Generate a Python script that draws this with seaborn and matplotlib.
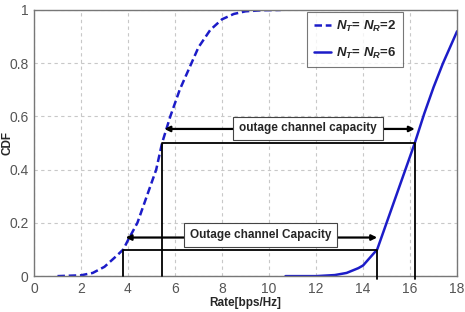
import numpy as np
import pandas as pd
import matplotlib
matplotlib.use("Agg")
import matplotlib.pyplot as plt
import seaborn as sns

# CDF of rate, N_T = N_R = 2 (dashed)
rate_2 = [1.0, 2.0, 2.5, 3.0, 3.5, 3.8, 4.0, 4.4, 4.8, 5.2, 5.45, 5.8, 6.2, 6.7, 7.0, 7.5, 8.0, 8.5, 9.0, 9.7, 10.5]
cdf_2 = [0.0, 0.003, 0.012, 0.035, 0.075, 0.10, 0.135, 0.20, 0.30, 0.40, 0.50, 0.60, 0.70, 0.80, 0.86, 0.925, 0.965, 0.985, 0.995, 0.999, 1.0]

# CDF of rate, N_T = N_R = 6 (solid)
rate_6 = [10.7, 12.0, 12.8, 13.3, 13.8, 14.0, 14.3, 14.6, 15.0, 15.4, 15.8, 16.0, 16.2, 16.6, 17.0, 17.4, 17.7, 18.0]
cdf_6 = [0.0, 0.0, 0.004, 0.012, 0.03, 0.04, 0.07, 0.10, 0.20, 0.30, 0.40, 0.45, 0.50, 0.61, 0.71, 0.80, 0.86, 0.92]

labels = [r"$N_T$= $N_R$=2", r"$N_T$= $N_R$=6"]

# outage capacity markers: (left rate, right rate, cdf level, arrow level, text, text x, text y)
outage_hi = (5.45, 16.2, 0.5, 0.553, "outage channel capacity", 11.65, 0.555)
outage_lo = (3.8, 14.6, 0.1, 0.145, "Outage channel Capacity", 9.63, 0.154)

sns.set_style("whitegrid")
plt.rcParams["font.family"] = ["Liberation Sans", "DejaVu Sans"]
plt.rcParams["mathtext.fontset"] = "custom"
plt.rcParams["mathtext.it"] = "Liberation Sans:italic:bold"
plt.rcParams["mathtext.rm"] = "Liberation Sans:bold"

df = pd.concat([
    pd.DataFrame({"rate": rate_2, "cdf": cdf_2, "cfg": labels[0]}),
    pd.DataFrame({"rate": rate_6, "cdf": cdf_6, "cfg": labels[1]}),
])

fig, ax = plt.subplots(figsize=(4.65, 3.12), dpi=100)
fig.subplots_adjust(left=0.073, right=0.983, top=0.968, bottom=0.115)

blue = "#1c1cc8"
sns.lineplot(data=df, x="rate", y="cdf", hue="cfg", style="cfg",
             palette=[blue, blue], dashes=[(3, 1.5), ""], linewidth=1.8,
             sort=False, ax=ax)

for x0, x1, lvl, arr, txt, tx, ty in (outage_hi, outage_lo):
    ax.plot([x0, x0, x1, x1], [0, lvl, lvl, -0.01], color="black", lw=1.3, zorder=3, clip_on=False)
    ax.annotate("", xy=(x0 + 0.1, arr), xytext=(x1, arr),
                arrowprops=dict(arrowstyle="<|-|>", color="black", lw=1.6,
                                mutation_scale=8, shrinkA=0, shrinkB=0), zorder=4)
    ax.text(tx, ty, txt, ha="center", va="center", fontsize=8.5, fontweight="bold",
            zorder=5, bbox=dict(boxstyle="square,pad=0.5", fc="white", ec="#444444", lw=0.8))

ax.set_xlim(0, 18)
ax.set_ylim(0, 1)
ax.set_xticks(np.arange(0, 19, 2))
ax.set_yticks([0, 0.2, 0.4, 0.6, 0.8, 1])
ax.set_yticklabels(["0", "0.2", "0.4", "0.6", "0.8", "1"])
ax.tick_params(labelsize=10, labelcolor="#555555", length=3, color="#666666", pad=1)
ax.grid(True, linestyle=(0, (3, 3)), color="#c8c8c8", linewidth=0.8)
for s in ax.spines.values():
    s.set_color("#777777")
    s.set_linewidth(1.0)

ax.set_xlabel("Rate[bps/Hz]", fontsize=8.5, fontweight="bold", labelpad=1)
ax.set_ylabel("CDF", fontsize=8.5, fontweight="bold")
ax.yaxis.set_label_coords(-0.048, 0.5)

leg = ax.legend(loc="upper right", bbox_to_anchor=(0.872, 0.992), borderaxespad=0,
                fontsize=9.5, frameon=True, fancybox=False, edgecolor="#555555",
                handlelength=1.3, borderpad=0.5, labelspacing=0.9, handletextpad=0.4)
leg.get_frame().set_linewidth(0.8)
for t in leg.get_texts():
    t.set_fontweight("bold")

fig.savefig("out.png", dpi=100)
